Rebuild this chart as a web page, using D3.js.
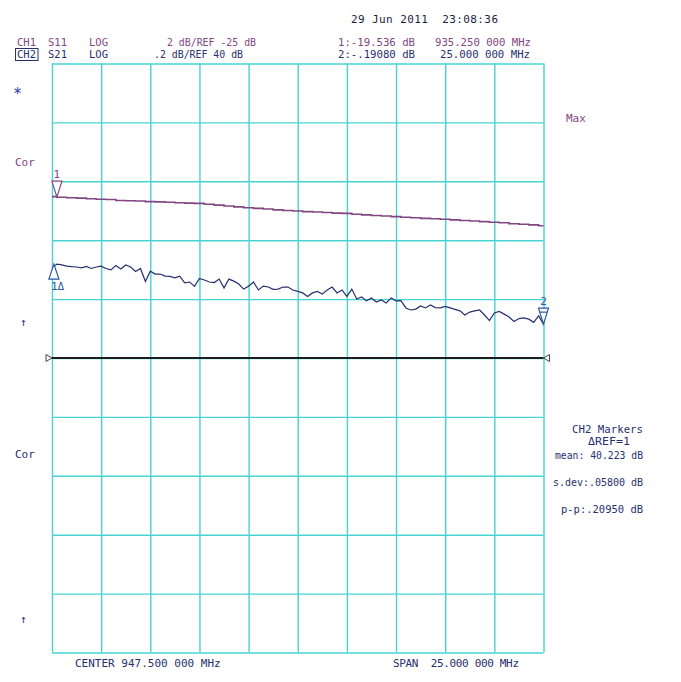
<!DOCTYPE html>
<html>
<head>
<meta charset="utf-8">
<script src="https://cdnjs.cloudflare.com/ajax/libs/d3/7.8.5/d3.min.js"></script>
<style>
  body { margin: 0; background: #fff; }
  svg text { font-family: "DejaVu Sans Mono", "Liberation Mono", monospace; font-size: 11px; white-space: pre; }
</style>
</head>
<body>
<svg id="vna" width="681" height="682"></svg>
<script>
// sweep: 935 .. 960 MHz (center 947.5, span 25)
var sweepStart = 935, sweepStop = 960;

// CH1 S11, log mag, 2 dB/div, REF -25 dB (51 pts)
var ch1Values = [
  -19.52, -19.54, -19.56, -19.57, -19.59, -19.61, -19.62, -19.65, -19.66, -19.67,
  -19.69, -19.70, -19.71, -19.73, -19.74, -19.75, -19.78, -19.81, -19.84, -19.87,
  -19.90, -19.92, -19.94, -19.97, -19.99, -20.01, -20.03, -20.04, -20.06, -20.08,
  -20.09, -20.12, -20.14, -20.16, -20.18, -20.20, -20.22, -20.24, -20.26, -20.27,
  -20.29, -20.31, -20.33, -20.35, -20.37, -20.39, -20.41, -20.44, -20.46, -20.48,
  -20.51
];

// CH2 S21, log mag, .2 dB/div, REF 40 dB (101 pts)
var ch2Values = [
  40.306, 40.319, 40.316, 40.312, 40.310, 40.309, 40.306, 40.311, 40.304, 40.309,
  40.312, 40.304, 40.299, 40.314, 40.302, 40.316, 40.309, 40.294, 40.304, 40.260,
  40.295, 40.285, 40.285, 40.278, 40.277, 40.272, 40.278, 40.255, 40.258, 40.243,
  40.270, 40.265, 40.258, 40.256, 40.268, 40.238, 40.268, 40.261, 40.251, 40.234,
  40.244, 40.258, 40.231, 40.244, 40.241, 40.233, 40.234, 40.241, 40.241, 40.231,
  40.226, 40.221, 40.209, 40.221, 40.226, 40.217, 40.231, 40.241, 40.221, 40.231,
  40.209, 40.234, 40.200, 40.207, 40.194, 40.204, 40.190, 40.197, 40.187, 40.204,
  40.194, 40.195, 40.170, 40.163, 40.166, 40.177, 40.170, 40.180, 40.171, 40.170,
  40.175, 40.170, 40.165, 40.160, 40.146, 40.156, 40.160, 40.163, 40.146, 40.127,
  40.153, 40.158, 40.149, 40.139, 40.124, 40.134, 40.136, 40.132, 40.121, 40.143,
  40.115
];

// header / annotation text
var dateText = "29 Jun 2011  23:08:36";
var ch1Header = ["CH1", "S11", "LOG", "2 dB/REF -25 dB", "1:-19.536 dB", "935.250 000 MHz"];
var ch2Header = ["CH2", "S21", "LOG", ".2 dB/REF 40 dB", "2:-.19080 dB", "25.000 000 MHz"];
var statLines = ["CH2 Markers", "\u0394REF=1", "mean: 40.223 dB", "s.dev:.05800 dB", "p-p:.20950 dB"];
var footer = ["CENTER 947.500 000 MHz", "SPAN  25.000 000 MHz"];

// marker positions (MHz)
var marker1Freq = 935.25, marker2Freq = 960;

var PURPLE = "#834583", NAVY = "#27306e", BLUE = "#2b57a5", GRID = "#47d3d3";

var svg = d3.select("#vna");
var box = { left: 52, right: 543.5, top: 63.5, bottom: 652.5 };

var x = d3.scaleLinear().domain([sweepStart, sweepStop]).range([box.left, box.right]);
var y1 = d3.scaleLinear().domain([-35, -15]).range([box.bottom, box.top]);
var y2 = d3.scaleLinear().domain([39, 41]).range([box.bottom, box.top]);

// graticule, 10 x 10
var xDivs = d3.range(0, 11).map(function(i){ return sweepStart + i * 2.5; });
var yDivs = d3.range(0, 11).map(function(i){ return -35 + i * 2; });

svg.append("g")
    .attr("transform", "translate(0," + box.bottom + ")")
    .call(d3.axisBottom(x).tickValues(xDivs).tickSize(-(box.bottom - box.top)).tickFormat(""))
    .call(function(g){ g.select(".domain").remove(); })
    .selectAll("line").attr("stroke", GRID).attr("stroke-width", 1.4);

svg.append("g")
    .attr("transform", "translate(" + box.left + ",0)")
    .call(d3.axisLeft(y1).tickValues(yDivs).tickSize(-(box.right - box.left)).tickFormat(""))
    .call(function(g){ g.select(".domain").remove(); })
    .selectAll("line").attr("stroke", GRID).attr("stroke-width", 1.4);

// reference line + reference position pointers
var refY = y1(-25);
svg.append("line")
    .attr("x1", box.left).attr("x2", box.right)
    .attr("y1", refY).attr("y2", refY)
    .attr("stroke", "#1e1e1e").attr("stroke-width", 2);
svg.append("path")
    .attr("d", "M" + (box.left - 6) + "," + (refY - 3.5) + "L" + (box.left) + "," + refY + "L" + (box.left - 6) + "," + (refY + 3.5) + "Z")
    .attr("fill", "#fff").attr("stroke", "#444").attr("stroke-width", 1);
svg.append("path")
    .attr("d", "M" + (box.right + 6) + "," + (refY - 3.5) + "L" + (box.right) + "," + refY + "L" + (box.right + 6) + "," + (refY + 3.5) + "Z")
    .attr("fill", "#fff").attr("stroke", "#444").attr("stroke-width", 1);

// traces
var step1 = (sweepStop - sweepStart) / (ch1Values.length - 1);
var step2 = (sweepStop - sweepStart) / (ch2Values.length - 1);

var line1 = d3.line()
    .x(function(d, i){ return x(sweepStart + i * step1); })
    .y(function(d){ return y1(d); })
    .curve(d3.curveStep);
var line2 = d3.line()
    .x(function(d, i){ return x(sweepStart + i * step2); })
    .y(function(d){ return y2(d); });

svg.append("path").datum(ch1Values)
    .attr("d", line1).attr("fill", "none")
    .attr("stroke", PURPLE).attr("stroke-width", 1.6);
svg.append("path").datum(ch2Values)
    .attr("d", line2).attr("fill", "none")
    .attr("stroke", NAVY).attr("stroke-width", 1.2);

// markers
function valueAt(values, step, f){
    return values[Math.round((f - sweepStart) / step)];
}

function downMarker(cx, cy, color, label, bar){
    var g = svg.append("g");
    g.append("path")
        .attr("d", "M" + (cx - 5) + "," + (cy - 16) + "L" + (cx + 5) + "," + (cy - 16) + "L" + cx + "," + cy + "Z")
        .attr("fill", "#fff").attr("stroke", color).attr("stroke-width", 1.2);
    if(bar){
        g.append("line")
            .attr("x1", cx - 4).attr("x2", cx + 4)
            .attr("y1", cy - 12).attr("y2", cy - 12)
            .attr("stroke", color).attr("stroke-width", 1.2);
    }
    g.append("text").attr("x", cx).attr("y", cy - 19)
        .attr("text-anchor", "middle").attr("fill", color).text(label);
}

downMarker(x(marker1Freq), y1(-19.536), PURPLE, "1", false);

var m1x2 = x(marker1Freq) - 3;
var m1y2 = y2(valueAt(ch2Values, step2, marker1Freq));
svg.append("path")
    .attr("d", "M" + (m1x2 - 5) + "," + (m1y2 + 15) + "L" + (m1x2 + 5) + "," + (m1y2 + 15) + "L" + m1x2 + "," + m1y2 + "Z")
    .attr("fill", "#fff").attr("stroke", BLUE).attr("stroke-width", 1.2);
svg.append("text").attr("x", m1x2 - 3).attr("y", m1y2 + 26)
    .attr("fill", BLUE).text("1\u0394");

downMarker(x(marker2Freq), y2(valueAt(ch2Values, step2, marker2Freq)), BLUE, "2", true);

// header
svg.append("text").attr("x", 351).attr("y", 23)
    .attr("textLength", 147).attr("lengthAdjust", "spacing")
    .attr("fill", "#1c1c3c").text(dateText);

// column starts and widths as measured on the screen
var headX = [17, 48, 89, 167, 338, 435];
var headX2 = [17, 48, 89, 154, 338, 440];
var headW = [19, 19, 19, 89, 77, 96];
var headW2 = [19, 19, 19, 89, 77, 90];
function headerRow(items, xs, ws, yPos, color){
    items.forEach(function(t, i){
        svg.append("text").attr("x", xs[i]).attr("y", yPos)
            .attr("textLength", ws[i]).attr("lengthAdjust", "spacingAndGlyphs")
            .attr("fill", color).text(t);
    });
}
headerRow(ch1Header, headX, headW, 46, PURPLE);
headerRow(ch2Header, headX2, headW2, 58, NAVY);
svg.append("rect").attr("x", 15.5).attr("y", 48.5).attr("width", 22.5).attr("height", 12)
    .attr("fill", "none").attr("stroke", NAVY).attr("stroke-width", 1);

// left hand annotations
var leftNotes = [
    { t: "*", x: 13, y: 99, c: "#2b3bb5", s: 15 },
    { t: "Cor", x: 15, y: 166, c: PURPLE, s: 11 },
    { t: "\u2191", x: 20, y: 326, c: NAVY, s: 11 },
    { t: "Cor", x: 15, y: 458, c: NAVY, s: 11 },
    { t: "\u2191", x: 20, y: 623, c: NAVY, s: 11 },
    { t: "Max", x: 566, y: 122, c: PURPLE, s: 11 }
];
leftNotes.forEach(function(n){
    svg.append("text").attr("x", n.x).attr("y", n.y)
        .style("font-size", n.s + "px").attr("fill", n.c).text(n.t);
});

// marker statistics (right aligned at 643)
var statY = [433, 445, 459, 486, 513];
var statX = [572, 588, 555, 553, 561];
var statW = [71, 42, 88, 90, 82];
statLines.forEach(function(t, i){
    svg.append("text").attr("x", statX[i]).attr("y", statY[i])
        .attr("textLength", statW[i]).attr("lengthAdjust", "spacingAndGlyphs")
        .attr("fill", NAVY).text(t);
});

// footer
svg.append("text").attr("x", 75).attr("y", 667).attr("fill", NAVY).text(footer[0]);
svg.append("text").attr("x", 393).attr("y", 667)
    .attr("textLength", 126).attr("lengthAdjust", "spacing")
    .attr("fill", NAVY).text(footer[1]);
</script>
</body>
</html>
